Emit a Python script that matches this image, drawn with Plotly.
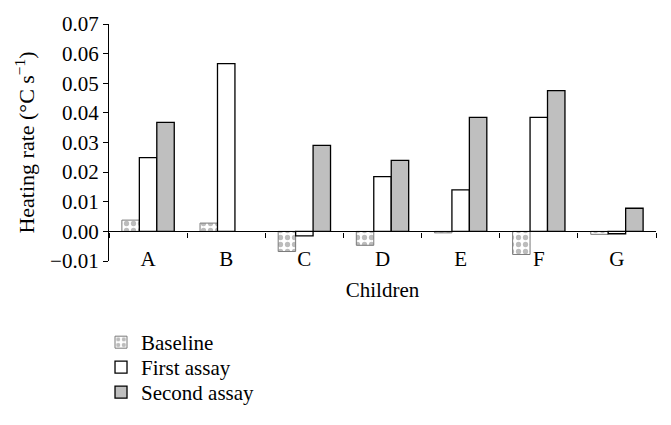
import plotly.graph_objects as go

children = ["A", "B", "C", "D", "E", "F", "G"]
baseline = [0.0038, 0.0028, -0.0068, -0.0047, -0.0005, -0.0078, -0.0010]
first_assay = [0.0249, 0.0566, -0.0015, 0.0185, 0.0140, 0.0385, -0.0008]
second_assay = [0.0368, None, 0.0290, 0.0240, 0.0385, 0.0475, 0.0078]
yticks = [-0.01, 0.0, 0.01, 0.02, 0.03, 0.04, 0.05, 0.06, 0.07]
ytick_text = ["\u22120.01", "0.00", "0.01", "0.02", "0.03", "0.04", "0.05", "0.06", "0.07"]

FONT = "Liberation Serif"

fig = go.Figure()
fig.add_trace(go.Bar(
    name="Baseline", x=children, y=baseline, legend="legend",
    marker=dict(color="white", line=dict(color="#7a7a7a", width=1),
                pattern=dict(shape=".", fgcolor="#7a7a7a", bgcolor="white", size=7, solidity=0.45)),
))
fig.add_trace(go.Bar(
    name="First assay", x=children, y=first_assay, legend="legend2",
    marker=dict(color="white", line=dict(color="black", width=1.3)),
))
fig.add_trace(go.Bar(
    name="Second assay", x=children, y=second_assay, legend="legend3",
    marker=dict(color="#bfbfbf", line=dict(color="black", width=1.3)),
))

yr = [-0.01, 0.07]
zero_pos = (0 - yr[0]) / (yr[1] - yr[0])

leg_common = dict(x=-0.0146, xanchor="left", yanchor="middle",
                  font=dict(family=FONT, size=21), itemwidth=30,
                  bgcolor="rgba(0,0,0,0)")

fig.update_layout(
    width=663, height=417,
    margin=dict(l=101, r=15, t=16, b=164, autoexpand=False),
    plot_bgcolor="white", paper_bgcolor="white",
    font=dict(family=FONT, size=21, color="black"),
    barmode="group", bargap=0.33, bargroupgap=0,
    showlegend=True,
    legend=dict(y=-0.344, **leg_common),
    legend2=dict(y=-0.449, **leg_common),
    legend3=dict(y=-0.555, **leg_common),
    xaxis=dict(
        anchor="free", position=zero_pos,
        showline=True, linecolor="black", linewidth=1.3,
        ticks="outside", ticklen=5, tickcolor="black", tickwidth=1.3,
        tickson="boundaries", ticklabelstandoff=8,
        tickfont=dict(family=FONT, size=21),
        showgrid=False, zeroline=False, automargin=False,
        title=dict(text="Children", font=dict(family=FONT, size=21), standoff=12),
    ),
    yaxis=dict(
        range=yr, tickvals=yticks, ticktext=ytick_text,
        showline=True, linecolor="black", linewidth=1.3,
        ticks="outside", ticklen=5, tickcolor="black", tickwidth=1.3,
        tickfont=dict(family=FONT, size=21),
        showgrid=False, zeroline=False, automargin=False,
        title=dict(text="Heating rate (\u00b0C s<sup>\u22121</sup>)", font=dict(family=FONT, size=22), standoff=9),
    ),
)

fig.write_html("out.html")
